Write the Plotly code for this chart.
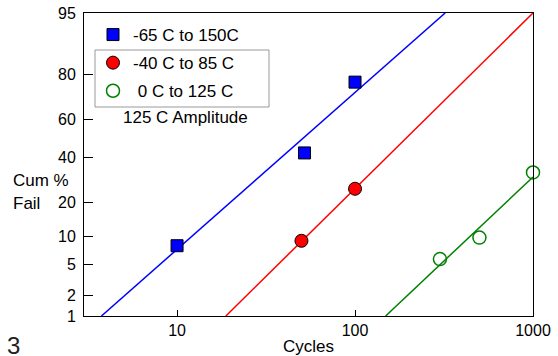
import math
from statistics import NormalDist
import plotly.graph_objects as go

# ---- data ----
names = ["-65 C to 150C", "-40 C to 85 C", "\u00a00 C to 125 C"]
blue_cycles = [10, 52, 100]
blue_pct = [8, 42.5, 77]
red_cycles = [50, 100]
red_pct = [9, 25.5]
green_cycles = [300, 500, 1000]
green_pct = [5.7, 9.7, 32.8]

# fitted lines (end points)
blue_fit_cycles = [3.76, 321]
blue_fit_pct = [1, 95]
red_fit_cycles = [18.8, 1000]
red_fit_pct = [1, 95]
green_fit_cycles = [148.6, 1000]
green_fit_pct = [1, 30.7]

y_ticks = [1, 2, 5, 10, 20, 40, 60, 80, 95]
x_ticks = [10, 100, 1000]

nd = NormalDist()


def z(vals):
    return [nd.inv_cdf(v / 100.0) for v in vals]


W, H = 558, 356
L, R, T, B = 84, 25, 13, 40
pw, ph = W - L - R, H - T - B


def px(x):
    return (x - L) / pw


def py(y):
    return (H - B - y) / ph


FONT = "Liberation Sans, Arial, sans-serif"

fig = go.Figure()

fig.add_trace(go.Scatter(x=blue_fit_cycles, y=z(blue_fit_pct), mode="lines",
                         line=dict(color="#0000FF", width=1.5), showlegend=False,
                         hoverinfo="skip"))
fig.add_trace(go.Scatter(x=red_fit_cycles, y=z(red_fit_pct), mode="lines",
                         line=dict(color="#FF0000", width=1.5), showlegend=False,
                         hoverinfo="skip"))
fig.add_trace(go.Scatter(x=green_fit_cycles, y=z(green_fit_pct), mode="lines",
                         line=dict(color="#008000", width=1.5), showlegend=False,
                         hoverinfo="skip"))

fig.add_trace(go.Scatter(x=blue_cycles, y=z(blue_pct), mode="markers", name=names[0],
                         legendgroup="a", cliponaxis=False,
                         marker=dict(symbol="square", size=12, color="#0000FF",
                                     line=dict(color="black", width=1))))
fig.add_trace(go.Scatter(x=red_cycles, y=z(red_pct), mode="markers", name=names[1],
                         legendgroup="b", cliponaxis=False,
                         marker=dict(symbol="circle", size=13, color="#FF0000",
                                     line=dict(color="black", width=1))))
fig.add_trace(go.Scatter(x=green_cycles, y=z(green_pct), mode="markers", name=names[2],
                         legendgroup="c", cliponaxis=False,
                         marker=dict(symbol="circle-open", size=13, color="#008000",
                                     line=dict(color="#008000", width=1.5))))

fig.update_layout(
    width=W, height=H,
    margin=dict(l=L, r=R, t=T, b=B, pad=0, autoexpand=False),
    paper_bgcolor="white", plot_bgcolor="white",
    font=dict(family=FONT, size=16, color="black"),
    legend=dict(x=px(93), y=py(17), xanchor="left", yanchor="top",
                bgcolor="rgba(0,0,0,0)", borderwidth=0,
                font=dict(size=17), tracegroupgap=3),
    showlegend=True,
)

fig.update_xaxes(type="log", range=[math.log10(3), 3], automargin=False,
                 tickvals=x_ticks, ticktext=[str(v) for v in x_ticks],
                 ticks="inside", ticklen=6, tickcolor="black",
                 showline=True, linecolor="black", linewidth=1, mirror=True,
                 showgrid=False, zeroline=False,
                 tickfont=dict(size=16),
                 title=dict(text="Cycles", font=dict(size=17), standoff=4))
fig.update_yaxes(range=z([1, 95]), automargin=False,
                 tickvals=z(y_ticks), ticktext=[str(v) for v in y_ticks],
                 ticks="inside", ticklen=9, tickcolor="black",
                 showline=True, linecolor="black", linewidth=1, mirror=True,
                 showgrid=False, zeroline=False,
                 tickfont=dict(size=16), ticklabelstandoff=4)

# legend box around second and third items
fig.add_shape(type="rect", xref="paper", yref="paper",
              x0=px(95), x1=px(269), y0=py(107), y1=py(50),
              line=dict(color="#999999", width=1))

fig.add_annotation(text="125 C Amplitude", xref="paper", yref="paper",
                   x=px(121), y=py(118), xanchor="left", yanchor="middle",
                   showarrow=False, font=dict(size=17))
fig.add_annotation(text="Cum %", xref="paper", yref="paper",
                   x=px(11), y=py(180), xanchor="left", yanchor="middle",
                   showarrow=False, font=dict(size=17))
fig.add_annotation(text="Fail", xref="paper", yref="paper",
                   x=px(11), y=py(203), xanchor="left", yanchor="middle",
                   showarrow=False, font=dict(size=17))
fig.add_annotation(text="3", xref="paper", yref="paper",
                   x=px(5), y=py(345), xanchor="left", yanchor="middle",
                   showarrow=False, font=dict(size=24, color="#222222"))

fig.write_html("out.html",
               config={"displayModeBar": False},
               post_script="document.body.style.margin='0px';"
                           "document.body.style.overflow='hidden';")
